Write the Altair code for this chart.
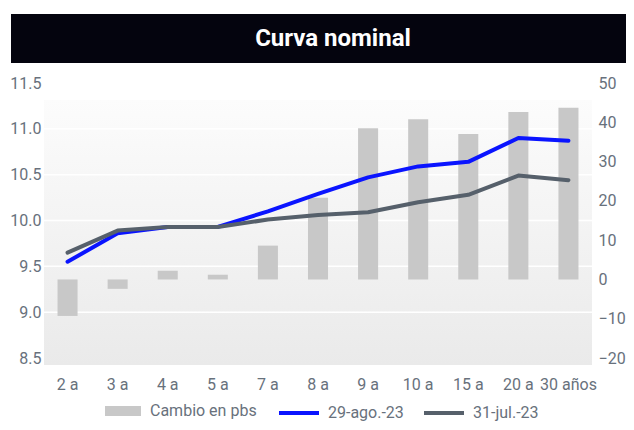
import altair as alt
import pandas as pd

# ---- data ----
plazos = ["2 a", "3 a", "4 a", "5 a", "7 a", "8 a", "9 a", "10 a", "15 a", "20 a", "30 años"]
ago_29 = [9.55, 9.86, 9.93, 9.93, 10.10, 10.29, 10.47, 10.59, 10.64, 10.90, 10.87]
jul_31 = [9.65, 9.89, 9.93, 9.93, 10.01, 10.06, 10.09, 10.20, 10.28, 10.49, 10.44]
cambio = [-9.3, -2.4, 2.2, 1.2, 8.6, 20.8, 38.5, 40.8, 37.0, 42.6, 43.7]
left_ticks = [8.5, 9.0, 9.5, 10.0, 10.5, 11.0, 11.5]
right_ticks = [-20, -10, 0, 10, 20, 30, 40, 50]
grid_vals = [9.0, 9.5, 10.0, 10.5, 11.0]
bar_series = ["Cambio en pbs"]
line_series = ["29-ago.-23", "31-jul.-23"]
bar_color = ["#c8c8c8"]
line_colors = ["#0a14ff", "#56606b"]

W, H = 548, 275
LABEL = "#68717c"
FONT = "Roboto"

bars_df = pd.DataFrame({"plazo": plazos, "valor": cambio, "serie": bar_series[0]})
lines_df = pd.concat([
    pd.DataFrame({"plazo": plazos, "tasa": ago_29, "serie": line_series[0], "o": range(len(plazos))}),
    pd.DataFrame({"plazo": plazos, "tasa": jul_31, "serie": line_series[1], "o": range(len(plazos))}),
])
grid_df = pd.DataFrame({"g": grid_vals})

xscale = alt.Scale(domain=plazos, paddingInner=0.6, paddingOuter=0.27)
xaxis = alt.Axis(title=None, domain=False, ticks=False, labelColor=LABEL, labelFontSize=16,
                 labelFont=FONT, labelPadding=18, labelAngle=0)

leg_common = dict(title=None, orient="none", direction="horizontal", labelColor=LABEL,
                  labelFontSize=16, labelFont=FONT, labelOffset=7, columnPadding=12,
                  symbolSize=1600)

one = alt.Data(values=[{"k": 1}])

bg = alt.Chart(one).mark_rect(
    fill=alt.Gradient(gradient="linear", x1=0, y1=0, x2=0, y2=1,
                      stops=[alt.GradientStop(offset=0, color="#fcfcfc"),
                             alt.GradientStop(offset=1, color="#eaeaea")])
).encode(x=alt.value(0), x2=alt.value(W), y=alt.value(17), y2=alt.value(282))

grid = alt.Chart(grid_df).mark_rule(color="white", strokeWidth=1.5).encode(
    y=alt.Y("g:Q", scale=alt.Scale(domain=[8.5, 11.5], nice=False, zero=False), axis=None)
)

bars = alt.Chart(bars_df).mark_bar().encode(
    x=alt.X("plazo:N", scale=xscale, axis=xaxis, sort=plazos),
    y=alt.Y("valor:Q", scale=alt.Scale(domain=[-20, 50], nice=False),
            axis=alt.Axis(orient="right", title=None, values=right_ticks, format="d",
                          domain=False, ticks=False, grid=False, labelColor=LABEL,
                          labelFontSize=16, labelFont=FONT, labelPadding=6)),
    fill=alt.Fill("serie:N", scale=alt.Scale(domain=bar_series, range=bar_color),
                  legend=alt.Legend(legendX=59, legendY=308,
                                    symbolType="M-0.9,-0.25h1.8v0.5h-1.8z",
                                    symbolOpacity=1, symbolStrokeWidth=0, **leg_common)),
)

lines = alt.Chart(lines_df).mark_line(strokeWidth=4, strokeCap="round", strokeJoin="round").encode(
    x=alt.X("plazo:N", scale=xscale, axis=xaxis, sort=plazos),
    y=alt.Y("tasa:Q", scale=alt.Scale(domain=[8.5, 11.5], nice=False, zero=False),
            axis=alt.Axis(orient="left", title=None, values=left_ticks, format=".1f",
                          domain=False, ticks=False, grid=False, labelColor=LABEL,
                          labelFontSize=16, labelFont=FONT, labelPadding=3)),
    stroke=alt.Stroke("serie:N", scale=alt.Scale(domain=line_series, range=line_colors),
                      legend=alt.Legend(legendX=233, legendY=308, symbolType="stroke",
                                        symbolStrokeWidth=4, **leg_common)),
    order="o:Q",
)

title_bar = alt.Chart(one).mark_rect(fill="#04040e").encode(
    x=alt.value(-33), x2=alt.value(W + 40), y=alt.value(-69), y2=alt.value(-20)
)
title_txt = alt.Chart(one).mark_text(
    color="white", fontSize=24, fontWeight="bold", font=FONT, baseline="middle", align="center"
).encode(x=alt.value(289), y=alt.value(-44), text=alt.value("Curva nominal"))

chart = alt.layer(bg, grid, bars, lines, title_bar, title_txt).resolve_scale(
    y="independent"
).properties(
    width=W, height=H,
    autosize=alt.AutoSizeParams(type="none"),
    padding={"left": 36, "top": 75, "right": 34, "bottom": 64},
).configure_view(stroke=None)

chart.save("out.html", embed_options={"renderer": "svg", "actions": False})
